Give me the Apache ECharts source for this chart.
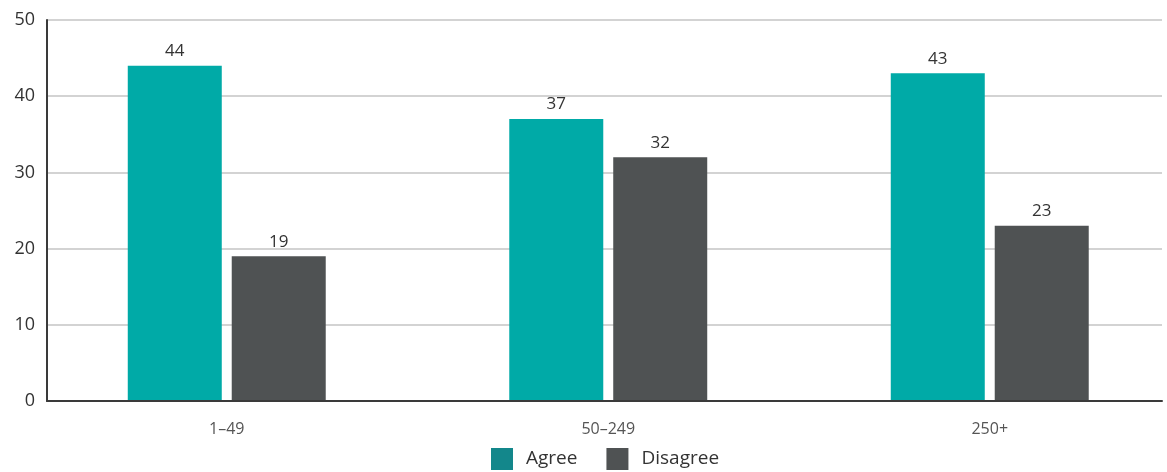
<!DOCTYPE html>
<html><head><meta charset="utf-8">
<script src="https://cdn.jsdelivr.net/npm/echarts@6/dist/echarts.min.js"></script>
<style>html,body{margin:0;padding:0;background:#fff;overflow:hidden;width:1167px;height:472px}#c{width:1200px;height:472px}</style>
</head><body><div id="c"></div>
<script>
const categories = ['1–49', '50–249', '250+'];
const agree = [44, 37, 43];
const disagree = [19, 32, 23];
const yTicks = [0, 10, 20, 30, 40, 50];

const FONT = '"Open Sans", "Noto Sans", sans-serif';
const chart = echarts.init(document.getElementById('c'), null, {renderer: 'canvas'});
chart.setOption({
  animation: false,
  textStyle: {fontFamily: FONT},
  legend: {
    data: [
      {name: 'Agree', itemStyle: {color: '#13878b'}},
      {name: 'Disagree', itemStyle: {color: '#4f5253'}}
    ],
    top: 448, left: 491, padding: 0, itemWidth: 22, itemHeight: 22, itemGap: 29,
    icon: 'rect',
    textStyle: {fontSize: 19, color: '#333', fontFamily: FONT, padding: [0, 0, 0, 8]}
  },
  grid: [
    {left: 47, width: 1115, top: 20, bottom: 71},
    {left: 36, width: 1144.5, top: 20, bottom: 71}
  ],
  xAxis: [
    {gridIndex: 0, type: 'category', data: categories, axisLabel: {show: false}, axisTick: {show: false},
     axisLine: {lineStyle: {color: '#3a3a3a', width: 2}}, z: 5},
    {gridIndex: 1, type: 'category', data: categories, axisTick: {show: false}, axisLine: {show: false},
     axisLabel: {fontSize: 16, color: '#555', margin: 20, fontFamily: FONT}}
  ],
  yAxis: [
    {gridIndex: 0, type: 'value', min: yTicks[0], max: yTicks[yTicks.length - 1], interval: 10,
     axisLine: {show: true, lineStyle: {color: '#3a3a3a', width: 2}},
     axisLabel: {fontSize: 18, color: '#333', margin: 12, fontFamily: FONT},
     splitLine: {lineStyle: {color: '#c4c4c4', width: 1.5}}},
    {gridIndex: 1, type: 'value', min: yTicks[0], max: yTicks[yTicks.length - 1], interval: 10,
     show: false, splitLine: {show: false}}
  ],
  series: [
    {name: 'Agree', type: 'bar', xAxisIndex: 1, yAxisIndex: 1, data: agree, barWidth: 94, barGap: '10.6%',
     itemStyle: {color: '#00aaa7'},
     label: {show: true, position: 'top', fontSize: 17, color: '#333', distance: 6, fontFamily: FONT}},
    {name: 'Disagree', type: 'bar', xAxisIndex: 1, yAxisIndex: 1, data: disagree, barWidth: 94,
     itemStyle: {color: '#4f5253'},
     label: {show: true, position: 'top', fontSize: 17, color: '#333', distance: 6, fontFamily: FONT}}
  ]
});
</script></body></html>
